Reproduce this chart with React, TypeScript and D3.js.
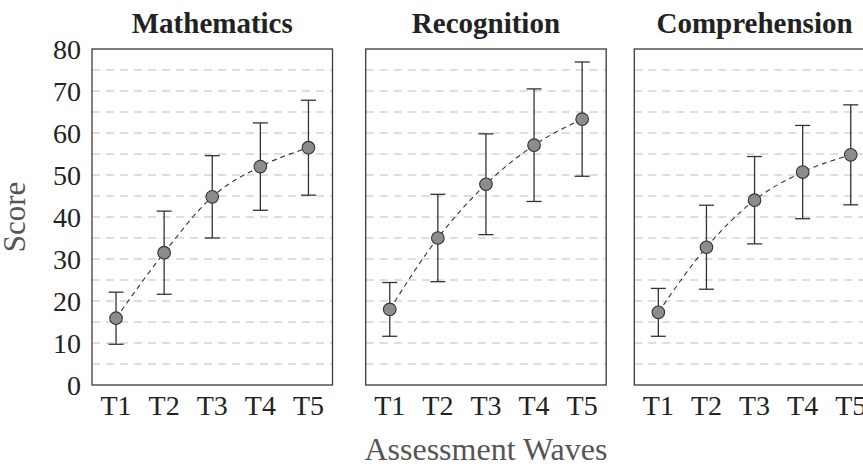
import React from "react";
import * as d3 from "d3";

const waves = ["T1", "T2", "T3", "T4", "T5"];
const panels = ["Mathematics", "Recognition", "Comprehension"];
const mathMean = [15.9, 31.5, 44.8, 52.0, 56.5];
const mathErr = [6.2, 9.9, 9.8, 10.4, 11.3];
const recogMean = [18.0, 35.0, 47.8, 57.1, 63.3];
const recogErr = [6.4, 10.4, 12.0, 13.4, 13.6];
const compMean = [17.3, 32.8, 44.0, 50.7, 54.8];
const compErr = [5.7, 10.0, 10.4, 11.1, 11.9];
const yTicks = [0, 10, 20, 30, 40, 50, 60, 70, 80];
const gridValues = [5, 10, 15, 20, 25, 30, 35, 40, 45, 50, 55, 60, 65, 70, 75];

const series = [
  { mean: mathMean, err: mathErr },
  { mean: recogMean, err: recogErr },
  { mean: compMean, err: compErr },
];

const W = 863;
const H = 468;
const panelLefts = [92, 365.7, 634.3];
const panelW = 240.5;
const top = 49;
const bottom = 385;
const serif = "'Liberation Serif', 'Times New Roman', serif";

export default function App() {
  const y = d3.scaleLinear().domain([0, 80]).range([bottom, top]);
  return (
    <div style={{ position: "absolute", left: 0, top: 0 }}>
      <svg width={W} height={H} style={{ display: "block", background: "#fff" }}>
        {panels.map((title, pi) => {
          const x0 = panelLefts[pi];
          const x = d3.scaleBand().domain(waves).range([x0, x0 + panelW]).padding(0);
          const cx = (w: string) => (x(w) as number) + x.bandwidth() / 2;
          const s = series[pi];
          const pts: [number, number][] = waves.map((w, i) => [cx(w), y(s.mean[i])]);
          const line = d3.line().curve(d3.curveMonotoneX)(pts) as string;
          return (
            <g key={title}>
              {gridValues.map((g) => (
                <line
                  key={g}
                  x1={x0}
                  x2={x0 + panelW}
                  y1={y(g)}
                  y2={y(g)}
                  stroke="#d4d4d4"
                  strokeWidth={1.3}
                  strokeDasharray="8,6"
                />
              ))}
              <rect
                x={x0}
                y={top}
                width={panelW}
                height={bottom - top}
                fill="none"
                stroke="#3a3a3a"
                strokeWidth={1.3}
              />
              <text
                x={x0 + panelW / 2}
                y={33}
                textAnchor="middle"
                fontFamily={serif}
                fontWeight="bold"
                fontSize={29}
                fill="#222"
              >
                {title}
              </text>
              {waves.map((w) => (
                <text
                  key={w}
                  x={cx(w)}
                  y={415}
                  textAnchor="middle"
                  fontFamily={serif}
                  fontSize={28}
                  fill="#222"
                >
                  {w}
                </text>
              ))}
              <path d={line} fill="none" stroke="#333" strokeWidth={1.1} strokeDasharray="5,4" />
              {waves.map((w, i) => {
                const c = cx(w);
                const hi = y(s.mean[i] + s.err[i]);
                const lo = y(s.mean[i] - s.err[i]);
                return (
                  <g key={w} stroke="#333" strokeWidth={1.3}>
                    <line x1={c} x2={c} y1={hi} y2={lo} />
                    <line x1={c - 7.5} x2={c + 7.5} y1={hi} y2={hi} />
                    <line x1={c - 7.5} x2={c + 7.5} y1={lo} y2={lo} />
                  </g>
                );
              })}
              {waves.map((w, i) => (
                <circle
                  key={w}
                  cx={cx(w)}
                  cy={y(s.mean[i])}
                  r={6.3}
                  fill="#8c8c8c"
                  stroke="#333"
                  strokeWidth={1.1}
                />
              ))}
            </g>
          );
        })}
        {yTicks.map((t) => (
          <text
            key={t}
            x={81}
            y={y(t)}
            dy="0.34em"
            textAnchor="end"
            fontFamily={serif}
            fontSize={28}
            fill="#222"
          >
            {t}
          </text>
        ))}
        <text
          transform={`translate(25,${(top + bottom) / 2}) rotate(-90)`}
          textAnchor="middle"
          fontFamily={serif}
          fontSize={31}
          fill="#555"
        >
          Score
        </text>
        <text
          x={panelLefts[1] + panelW / 2}
          y={460}
          textAnchor="middle"
          fontFamily={serif}
          fontSize={32}
          fill="#555"
        >
          Assessment Waves
        </text>
      </svg>
    </div>
  );
}
